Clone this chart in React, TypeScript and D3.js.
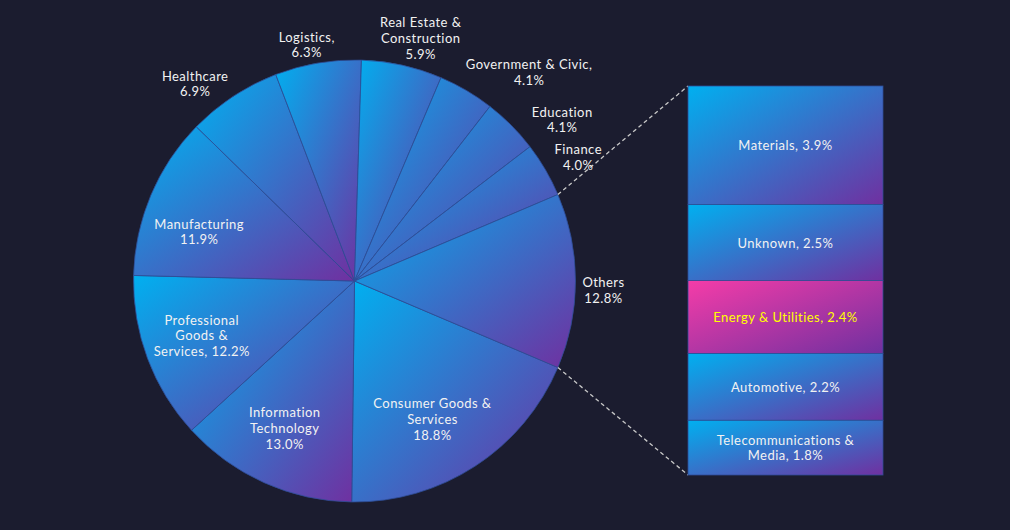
import React from "react";
import * as d3 from "d3";

const categories = [
  "Consumer Goods & Services",
  "Information Technology",
  "Professional Goods & Services",
  "Manufacturing",
  "Healthcare",
  "Logistics",
  "Real Estate & Construction",
  "Government & Civic",
  "Education",
  "Finance",
  "Others",
];
const otherCategories = ["Materials", "Unknown", "Energy & Utilities", "Automotive", "Telecommunications & Media"];
const otherValues = [3.9, 2.5, 2.4, 2.2, 1.8];
const mainValues = [18.8, 13.0, 12.2, 11.9, 6.9, 6.3, 5.9, 4.1, 4.1, 4.0, d3.sum(otherValues)];

// label wrapping templates ({p} = percentage)
const mainLabelFmt = [
  "Consumer Goods &|Services|{p}",
  "Information|Technology|{p}",
  "Professional|Goods &|Services, {p}",
  "Manufacturing|{p}",
  "Healthcare|{p}",
  "Logistics,|{p}",
  "Real Estate &|Construction|{p}",
  "Government & Civic,|{p}",
  "Education|{p}",
  "Finance|{p}",
  "Others|{p}",
];
const otherLabelFmt = ["Materials, {p}", "Unknown, {p}", "Energy & Utilities, {p}", "Automotive, {p}", "Telecommunications &|Media, {p}"];
const highlighted = "Energy & Utilities";

// label layout: inside (true) / outside, and nudges in px
const labelInside = [true, true, true, true, false, false, false, false, false, false, false];
const labelNudge: [number, number][] = [
  [-10, 3], [-4, 0], [-2, -2], [-7, 13], [-21, 13], [-6, 12], [12, 3], [47, 8], [29, 16], [6, 3], [-3, 9],
];

const W = 1010, H = 530;
const cx = 354.5, cy = 281, R = 221;
const box = { x0: 688, x1: 883, y0: 86, y1: 475 };
const BG = "#1b1c2f";
const CYAN = "#00b0f0", PURPLE = "#7030a0", PINK = "#f53ca8";
const FONT = "Lato, sans-serif";
const LH = 15.7;

const fmtP = (v: number) => `${v.toFixed(1)}%`;

function Label({ x, y, text, fill }: { x: number; y: number; text: string; fill: string }) {
  const lines = text.split("|");
  const y0 = y - ((lines.length - 1) * LH) / 2;
  return (
    <g>
      {lines.map((l, i) => (
        <text
          key={i}
          x={x}
          y={y0 + i * LH}
          textAnchor="middle"
          dominantBaseline="central"
          fontFamily={FONT}
          fontSize={13}
          letterSpacing={0.45}
          fill={fill}
        >
          {l}
        </text>
      ))}
    </g>
  );
}

export default function App() {
  const total = d3.sum(mainValues);
  const othersAngle = (mainValues[mainValues.length - 1] / total) * 2 * Math.PI;
  const start = Math.PI / 2 + othersAngle / 2;
  const pie = d3.pie<number>().sort(null).value((d) => d).startAngle(start).endAngle(start + 2 * Math.PI);
  const arcs = pie(mainValues);
  const arc = d3.arc<d3.PieArcDatum<number>>().innerRadius(0).outerRadius(R);

  const yScale = d3
    .scaleLinear()
    .domain([0, d3.sum(otherValues)])
    .range([box.y0, box.y1]);
  const cum = [0, ...d3.cumsum(otherValues)];

  const oArc = arcs[arcs.length - 1];
  const pTop: [number, number] = [cx + R * Math.sin(oArc.startAngle), cy - R * Math.cos(oArc.startAngle)];
  const pBot: [number, number] = [cx + R * Math.sin(oArc.endAngle), cy - R * Math.cos(oArc.endAngle)];

  return (
    <svg width={W} height={H} style={{ position: "fixed", left: 0, top: 0, display: "block" }}>
      <defs>
        <linearGradient id="gBlue" x1="0" y1="0" x2="1" y2="1">
          <stop offset="0" stopColor={CYAN} />
          <stop offset="1" stopColor={PURPLE} />
        </linearGradient>
        <linearGradient id="gPink" x1="0" y1="0" x2="1" y2="1">
          <stop offset="0" stopColor={PINK} />
          <stop offset="1" stopColor={PURPLE} />
        </linearGradient>
      </defs>
      <rect width={W} height={H} fill={BG} />
      <g transform={`translate(${cx},${cy})`}>
        {arcs.map((a, i) => (
          <path key={categories[i]} d={arc(a) || ""} fill="url(#gBlue)" stroke="#2d4c96" strokeWidth={0.8} />
        ))}
      </g>
      <line x1={pTop[0]} y1={pTop[1]} x2={box.x0} y2={box.y0} stroke="#c8c8c8" strokeWidth={1.3} strokeDasharray="4,3" />
      <line x1={pBot[0]} y1={pBot[1]} x2={box.x0} y2={box.y1} stroke="#c8c8c8" strokeWidth={1.3} strokeDasharray="4,3" />
      {otherValues.map((v, i) => (
        <rect
          key={otherCategories[i]}
          x={box.x0}
          y={yScale(cum[i])}
          width={box.x1 - box.x0}
          height={yScale(cum[i + 1]) - yScale(cum[i])}
          fill={otherCategories[i] === highlighted ? "url(#gPink)" : "url(#gBlue)"}
          stroke="#2d4c96"
          strokeWidth={0.8}
        />
      ))}
      {arcs.map((a, i) => {
        const mid = (a.startAngle + a.endAngle) / 2;
        const r = labelInside[i] ? 161 : 252;
        const x = cx + r * Math.sin(mid) + labelNudge[i][0];
        const y = cy - r * Math.cos(mid) + labelNudge[i][1];
        return <Label key={categories[i]} x={x} y={y} text={mainLabelFmt[i].replace("{p}", fmtP(mainValues[i]))} fill="#f2f2f2" />;
      })}
      {otherValues.map((v, i) => {
        const ym = (yScale(cum[i]) + yScale(cum[i + 1])) / 2;
        const xm = (box.x0 + box.x1) / 2;
        return (
          <Label
            key={otherCategories[i]}
            x={xm}
            y={ym}
            text={otherLabelFmt[i].replace("{p}", fmtP(v))}
            fill={otherCategories[i] === highlighted ? "#ffff00" : "#f2f2f2"}
          />
        );
      })}
    </svg>
  );
}
